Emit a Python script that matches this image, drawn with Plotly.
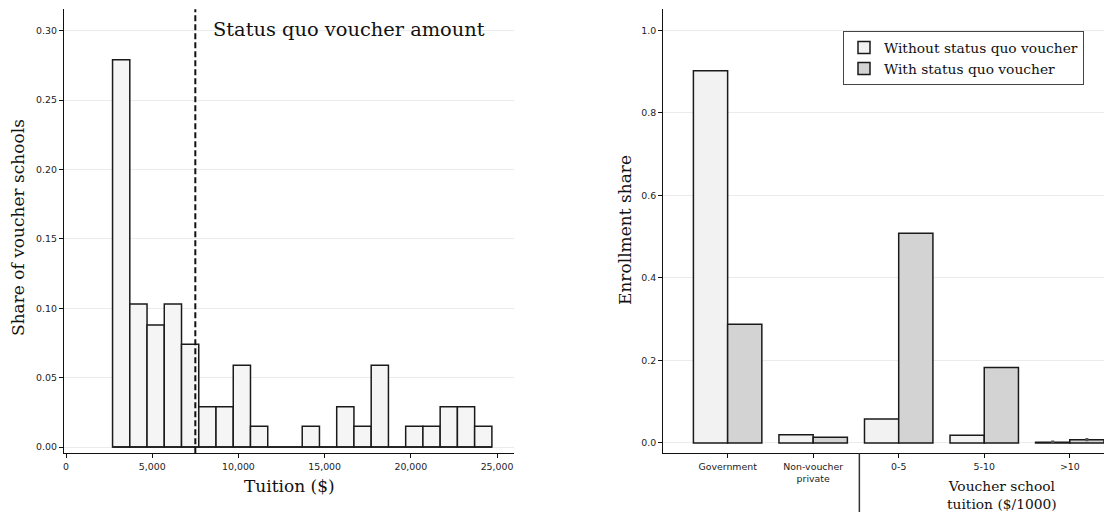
import plotly.graph_objects as go

# ---------------- data ----------------
# Left: histogram of voucher-school tuition (bin starts, $), bin width $1,000
bin_starts = [2700, 3700, 4700, 5700, 6700, 7700, 8700, 9700, 10700, 11700, 12700,
              13700, 14700, 15700, 16700, 17700, 18700, 19700, 20700, 21700, 22700, 23700]
bin_width = 1000
shares = [0.279, 0.103, 0.088, 0.103, 0.074, 0.029, 0.029, 0.059, 0.015, 0.0, 0.0,
          0.015, 0.0, 0.029, 0.015, 0.059, 0.0, 0.015, 0.015, 0.029, 0.029, 0.015]
status_quo_voucher = 7500
left_xticks = [0, 5000, 10000, 15000, 20000, 25000]
left_yticks = [0.00, 0.05, 0.10, 0.15, 0.20, 0.25, 0.30]

# Right: enrollment shares by school type
categories = ["Government", "Non-voucher<br>private", "0-5", "5-10", ">10"]
without_voucher = [0.902, 0.020, 0.058, 0.019, 0.002]
with_voucher = [0.288, 0.014, 0.508, 0.183, 0.008]
without_err = [0, 0, 0, 0, 0.004]
with_err = [0, 0, 0, 0, 0.004]
right_yticks = [0.0, 0.2, 0.4, 0.6, 0.8, 1.0]

# ---------------- styles ----------------
W, H = 1104, 512
SERIF = "DejaVu Serif"
SANS = "DejaVu Sans"
EDGE = "#1a1a1a"
GRID = "#ebebeb"

def px_x(p):
    return p / W

def px_y(p):
    return 1 - p / H

fig = go.Figure()

bin_centers = [s + bin_width / 2 for s in bin_starts]
fig.add_trace(go.Bar(
    x=bin_centers, y=shares, width=bin_width,
    marker=dict(color="#f5f5f5", line=dict(color=EDGE, width=1.5)),
    showlegend=False, xaxis="x", yaxis="y", hoverinfo="x+y",
))
# baseline outline for empty bins
fig.add_trace(go.Scatter(
    x=[bin_starts[0], bin_starts[-1] + bin_width], y=[0, 0], mode="lines",
    line=dict(color=EDGE, width=1.5), showlegend=False, xaxis="x", yaxis="y",
    hoverinfo="skip",
))

fig.add_trace(go.Bar(
    x=categories, y=without_voucher, name="Without status quo voucher",
    marker=dict(color="#f2f2f2", line=dict(color=EDGE, width=1.5)),
    error_y=dict(type="data", array=without_err, color="#555555", thickness=3, width=0),
    xaxis="x2", yaxis="y2",
))
fig.add_trace(go.Bar(
    x=categories, y=with_voucher, name="With status quo voucher",
    marker=dict(color="#d3d3d3", line=dict(color=EDGE, width=1.5)),
    error_y=dict(type="data", array=with_err, color="#555555", thickness=3, width=0),
    xaxis="x2", yaxis="y2",
))

ydom = [px_y(453.3), px_y(9.3)]
tickfont = dict(family=SANS, size=9.4, color="#222")
common_axis = dict(showline=True, linecolor="#111", linewidth=1.3, ticks="outside",
                   ticklen=4, tickwidth=1, tickcolor="#111", tickfont=tickfont,
                   zeroline=False, automargin=False)

fig.update_layout(
    width=W, height=H,
    margin=dict(l=0, r=0, t=0, b=0),
    paper_bgcolor="white", plot_bgcolor="white",
    barmode="group", bargap=0.2, bargroupgap=0,
    xaxis=dict(domain=[px_x(64), px_x(514.3)], range=[-116, 26000],
               tickvals=left_xticks, tickformat=",", showgrid=False,
               anchor="y", **common_axis),
    yaxis=dict(domain=ydom, range=[-0.0045, 0.3154], tickvals=left_yticks,
               tickformat=".2f", showgrid=True, gridcolor=GRID, gridwidth=1,
               anchor="x", **common_axis),
    xaxis2=dict(domain=[px_x(663.3), 1.0], range=[-0.752, 4.40],
                showgrid=False, anchor="y2", **common_axis),
    yaxis2=dict(domain=ydom, range=[-0.025, 1.051], tickvals=right_yticks,
                tickformat=".1f", showgrid=True, gridcolor=GRID, gridwidth=1,
                anchor="x2", **common_axis),
    legend=dict(x=px_x(843), y=px_y(31), xanchor="left", yanchor="top",
                bgcolor="white", bordercolor="#444", borderwidth=1,
                font=dict(family=SERIF, size=13.8, color="#111"),
                itemwidth=30, tracegroupgap=0),
    showlegend=True,
)

# status-quo voucher line
fig.add_shape(type="line", xref="x", yref="paper", x0=status_quo_voucher, x1=status_quo_voucher,
              y0=ydom[0], y1=ydom[1], line=dict(color="#111", width=2, dash="6px,3px"))
fig.add_annotation(xref="x", yref="y", x=8400, y=0.301, xanchor="left", yanchor="middle",
                   text="Status quo voucher amount", showarrow=False,
                   font=dict(family=SERIF, size=19.4, color="#111"))

# separator between private and voucher categories
fig.add_shape(type="line", xref="x2", yref="paper", x0=1.54, x1=1.54,
              y0=0, y1=ydom[0], line=dict(color="#333", width=1.5))

# axis titles
title_font = dict(family=SERIF, size=17, color="#111")
fig.add_annotation(xref="paper", yref="paper", x=px_x(18), y=px_y(228), text="Share of voucher schools",
                   textangle=-90, showarrow=False, font=title_font, xanchor="center", yanchor="middle")
fig.add_annotation(xref="paper", yref="paper", x=px_x(289), y=px_y(486), text="Tuition ($)",
                   showarrow=False, font=title_font, xanchor="center", yanchor="middle")
fig.add_annotation(xref="paper", yref="paper", x=px_x(625), y=px_y(230), text="Enrollment share",
                   textangle=-90, showarrow=False, font=title_font, xanchor="center", yanchor="middle")
fig.add_annotation(xref="paper", yref="paper", x=px_x(1002), y=px_y(495),
                   text="Voucher school<br>tuition ($/1000)",
                   showarrow=False, font=dict(family=SERIF, size=13.8, color="#111"),
                   xanchor="center", yanchor="middle")

fig.write_html("out.html", config={"displayModeBar": False},
               post_script="document.body.style.margin='0';document.body.style.overflow='hidden';")
